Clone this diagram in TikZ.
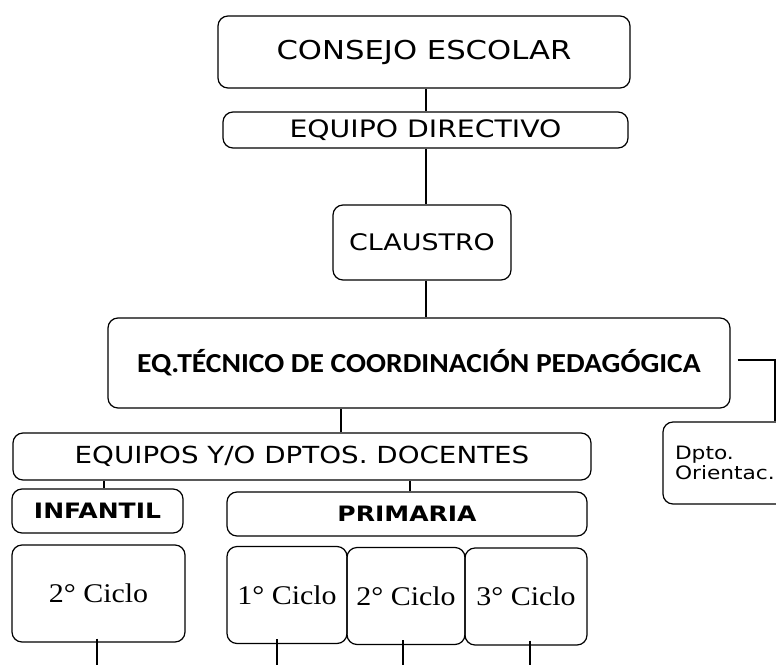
\documentclass[tikz,border=0pt]{standalone}
\usepackage{fontspec}
\usepackage{tikz}
\newfontfamily\vfont{DejaVu Sans}[FakeStretch=1.18]
\newfontfamily\cfont{Carlito}[FakeStretch=1.075]
\newfontfamily\sfont{Liberation Serif}[FakeStretch=1.11]

\begin{document}
\begin{tikzpicture}[x=1pt, y=-1pt,
	box/.style={shape=rectangle, rounded corners=10pt, draw=black, line width=1.2pt, inner sep=0pt, align=center},
	ciclo/.style={box, minimum height=97pt, font=\sfont\fontsize{27}{30}\selectfont},
	link/.style={draw=black, line width=1.2pt}]

	\fill[white] (0,0) rectangle (776,664);
	\useasboundingbox (0,0) rectangle (776,664);
	\clip (0,0) rectangle (776,664);

	\node[box, minimum width=412pt, minimum height=72pt, font=\vfont\fontsize{26}{30}\selectfont] (consejo) at (424,52) {CONSEJO ESCOLAR};
	\node[box, minimum width=405pt, minimum height=36pt, font=\vfont\fontsize{24}{28}\selectfont] (directivo) at (425.5,130) {EQUIPO DIRECTIVO};
	\node[box, minimum width=178pt, minimum height=75pt, font=\vfont\fontsize{22.8}{26}\selectfont] (claustro) at (422,242.5) {CLAUSTRO};
	\node[box, minimum width=622pt, minimum height=90pt, font=\cfont\bfseries\fontsize{27.5}{31}\selectfont] (etcp) at (419,363) {EQ.TÉCNICO DE COORDINACIÓN PEDAGÓGICA};
	\node[box, minimum width=143pt, minimum height=82pt, text width=119pt, inner xsep=12pt, align=left, font=\vfont\fontsize{18.4}{20}\selectfont] (dpto) at (734.5,463) {Dpto.\\Orientac.};
	\node[box, minimum width=578pt, minimum height=47pt, font=\vfont\fontsize{23.5}{27}\selectfont] (equipos) at (302,456.5) {EQUIPOS Y/O DPTOS. DOCENTES};
	\node[box, minimum width=171pt, minimum height=44pt, font=\vfont\bfseries\fontsize{21.2}{24}\selectfont] (infantil) at (97.5,511) {INFANTIL};
	\node[box, minimum width=360pt, minimum height=44pt, font=\vfont\bfseries\fontsize{21.2}{24}\selectfont] (primaria) at (407,514) {PRIMARIA};
	\node[ciclo, minimum width=173pt] (cinf) at (98.5,593.5) {2° Ciclo};
	\node[ciclo, minimum width=120pt] (cprim1) at (287,595) {1° Ciclo};
	\node[ciclo, minimum width=118pt] (cprim2) at (406,596) {2° Ciclo};
	\node[ciclo, minimum width=122pt] (cprim3) at (526,596.5) {3° Ciclo};

	\coordinate (binf) at (97,680);
	\coordinate (bprim1) at (277,680);
	\coordinate (bprim2) at (403,680);
	\coordinate (bprim3) at (530,680);

	\path[link] ([xshift=2pt]consejo.south) -- ([xshift=2pt]consejo.south |- directivo.north);
	\path[link] ([xshift=0.5pt]directivo.south) -- ([xshift=0.5pt]directivo.south |- claustro.north);
	\path[link] ([xshift=4pt]claustro.south) -- ([xshift=4pt]claustro.south |- etcp.north);
	\path[link] ([xshift=39pt]equipos.north) -- ([xshift=39pt]equipos.north |- etcp.south);
	\path[link] ([xshift=6.5pt]infantil.north) -- ([xshift=6.5pt]infantil.north |- equipos.south);
	\path[link] ([xshift=3pt]primaria.north) -- ([xshift=3pt]primaria.north |- equipos.south);
	\path[link] ([xshift=7pt,yshift=3pt]etcp.east) -| ([xshift=40.5pt]dpto.north);

	\path[link] ([yshift=4pt]cinf.south -| binf) -- (binf);
	\path[link] ([yshift=5pt]cprim1.south -| bprim1) -- (bprim1);
	\path[link] ([yshift=5pt]cprim2.south -| bprim2) -- (bprim2);
	\path[link] ([yshift=5pt]cprim3.south -| bprim3) -- (bprim3);

\end{tikzpicture}
\end{document}
